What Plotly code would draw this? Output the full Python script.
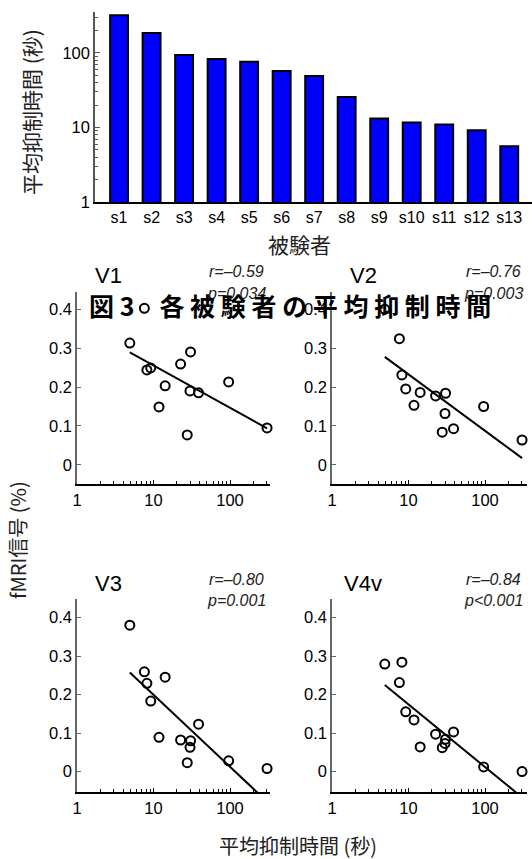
import plotly.graph_objects as go

W, H = 532, 859

# ---------------- data ----------------
subjects = ["s1", "s2", "s3", "s4", "s5", "s6", "s7", "s8", "s9", "s10", "s11", "s12", "s13"]
durations = [321, 185, 94, 83, 76, 57.5, 49, 25.7, 13.2, 11.7, 11.0, 9.2, 5.6]

sc_x = [4.9, 7.6, 8.2, 9.2, 11.8, 14.2, 22.6, 27.6, 30.5, 30.0, 38.8, 96, 305]
v1 = [0.313, 0.402, 0.244, 0.249, 0.149, 0.203, 0.259, 0.077, 0.290, 0.190, 0.185, 0.213, 0.095]
v2 = [0.400, 0.324, 0.231, 0.195, 0.153, 0.186, 0.177, 0.084, 0.184, 0.132, 0.093, 0.150, 0.064]
v3 = [0.380, 0.259, 0.229, 0.183, 0.089, 0.245, 0.082, 0.023, 0.080, 0.063, 0.123, 0.028, 0.008]
v4v = [0.279, 0.231, 0.284, 0.155, 0.134, 0.064, 0.097, 0.062, 0.084, 0.073, 0.103, 0.012, 0.000]

fit_x = [4.9, 305]
fit_v1 = [0.289, 0.094]
fit_v2 = [0.2775, 0.0175]
fit_v3 = [0.257, -0.078]
fit_v4v = [0.225, -0.067]

panel_names = ["V1", "V2", "V3", "V4v"]
r_labels = ["r=–0.59", "r=–0.76", "r=–0.80", "r=–0.84"]
p_labels = ["p=0.034", "p=0.003", "p=0.001", "p&lt;0.001"]

bar_yticks = [1, 10, 100]
sc_xticks = [1, 10, 100]
sc_xminor = [2, 3, 4, 5, 6, 7, 8, 9, 20, 30, 40, 50, 60, 70, 80, 90, 200, 300]
bar_yminor = [2, 3, 4, 5, 6, 7, 8, 9, 20, 30, 40, 50, 60, 70, 80, 90, 200, 300]
sc_yticks = [0, 0.1, 0.2, 0.3, 0.4]

caption = "<b>図 3　各 被 験 者 の 平 均 抑 制 時 間</b>"
bar_xtitle = "被験者"
bar_ytitle = "平均抑制時間 (秒)"
sc_xtitle = "平均抑制時間 (秒)"
sc_ytitle = "fMRI信号 (%)"

LAT = "Liberation Sans, Arial, 'Noto Sans CJK JP', sans-serif"
CJK = "'Noto Sans CJK JP', 'Liberation Sans', sans-serif"


def fx(px):
    return px / W


def fy(py):
    return 1 - py / H


fig = go.Figure()

# ---------------- bar chart ----------------
fig.add_trace(go.Bar(
    x=subjects, y=durations, width=0.55,
    marker=dict(color="#0000FF", line=dict(color="black", width=2)),
    xaxis="x", yaxis="y", showlegend=False,
))

axis_common = dict(showgrid=False, zeroline=False, showline=True, mirror=False, automargin=False)

layout = dict(
    width=W, height=H,
    margin=dict(l=0, r=0, t=0, b=0),
    paper_bgcolor="white", plot_bgcolor="white",
    showlegend=False,
    font=dict(family=LAT, color="black", size=16),
    xaxis=dict(domain=[fx(95), 1.0], anchor="y", range=[-0.74, 12.7],
               linecolor="black", linewidth=1.5, ticks="",
               tickfont=dict(size=16, family=LAT), **axis_common),
    yaxis=dict(domain=[fy(202), fy(12)], anchor="x", type="log", range=[0, 2.55],
               linecolor="#555", linewidth=1.5, ticks="inside", ticklen=5, tickcolor="#555",
               tickvals=bar_yticks, ticktext=[str(v) for v in bar_yticks],
               minor=dict(tickvals=bar_yminor, ticks="inside", ticklen=3, tickcolor="#555"),
               tickfont=dict(size=16.5, family=LAT), **axis_common),
)

panels = [(77, 270, 292, 484), (332, 527, 292, 484), (77, 270, 599, 792), (332, 527, 599, 792)]
yranges = [[-0.049, 0.444], [-0.049, 0.444], [-0.053, 0.448], [-0.053, 0.448]]
series = [v1, v2, v3, v4v]
fits = [fit_v1, fit_v2, fit_v3, fit_v4v]

annotations = []
for i, (l, r, t, b) in enumerate(panels):
    n = i + 2
    xa, ya = f"x{n}", f"y{n}"
    layout[f"xaxis{n}"] = dict(
        domain=[fx(l), fx(r)], anchor=ya, type="log", range=[0, (r - l) / 76.5],
        linecolor="black", linewidth=1.5, ticks="inside", ticklen=4, tickcolor="black",
        tickvals=sc_xticks, ticktext=[str(v) for v in sc_xticks],
        minor=dict(tickvals=sc_xminor, ticks="inside", ticklen=3, tickcolor="black"),
        tickfont=dict(size=16.5, family=LAT), **axis_common)
    layout[f"yaxis{n}"] = dict(
        domain=[fy(b), fy(t)], anchor=xa, range=yranges[i],
        linecolor="#666", linewidth=1.5, ticks="inside", ticklen=4, tickcolor="#666",
        tickvals=sc_yticks, ticktext=["0", "0.1", "0.2", "0.3", "0.4"],
        tickfont=dict(size=16.5, family=LAT), **axis_common)
    fig.add_trace(go.Scatter(
        x=fit_x, y=fits[i], mode="lines", line=dict(color="black", width=2),
        xaxis=xa, yaxis=ya, showlegend=False, hoverinfo="skip"))
    fig.add_trace(go.Scatter(
        x=sc_x, y=series[i], mode="markers",
        marker=dict(symbol="circle-open", size=9, color="black", line=dict(width=2, color="black")),
        xaxis=xa, yaxis=ya, showlegend=False, cliponaxis=False))

    tx = l + 31
    ty = t - 16
    annotations.append(dict(text=panel_names[i], x=fx(tx), y=fy(ty), xref="paper", yref="paper",
                            xanchor="center", yanchor="middle", showarrow=False,
                            font=dict(size=22, family=LAT, color="black")))
    rx = r - 4
    annotations.append(dict(text=f"<i>{r_labels[i]}</i>", x=fx(rx), y=fy(t - 20), xref="paper", yref="paper",
                            xanchor="right", yanchor="middle", showarrow=False,
                            font=dict(size=16, family=LAT, color="#222")))
    annotations.append(dict(text=f"<i>{p_labels[i]}</i>", x=fx(rx + 2), y=fy(t + 1), xref="paper", yref="paper",
                            xanchor="right", yanchor="middle", showarrow=False,
                            font=dict(size=16, family=LAT, color="#222")))

# axis titles
annotations += [
    dict(text=bar_xtitle, x=fx(299), y=fy(244), xref="paper", yref="paper", showarrow=False,
         xanchor="center", yanchor="middle", font=dict(size=21, family=CJK, color="#222")),
    dict(text=bar_ytitle, x=fx(31), y=fy(112), xref="paper", yref="paper", showarrow=False,
         textangle=-90, xanchor="center", yanchor="middle", font=dict(size=21, family=CJK, color="#222")),
    dict(text=sc_xtitle, x=fx(298), y=fy(845), xref="paper", yref="paper", showarrow=False,
         xanchor="center", yanchor="middle", font=dict(size=20, family=CJK, color="#222")),
    dict(text=sc_ytitle, x=fx(17), y=fy(540), xref="paper", yref="paper", showarrow=False,
         textangle=-90, xanchor="center", yanchor="middle", font=dict(size=20, family=CJK, color="#222")),
    dict(text=caption, x=fx(290), y=fy(305), xref="paper", yref="paper", showarrow=False,
         xanchor="center", yanchor="middle", font=dict(size=25, family=CJK, color="black")),
]

layout["annotations"] = annotations
fig.update_layout(**layout)
fig.write_html("out.html",
               config={"displayModeBar": False},
               post_script="document.body.style.margin='0';document.body.style.overflow='hidden';")
